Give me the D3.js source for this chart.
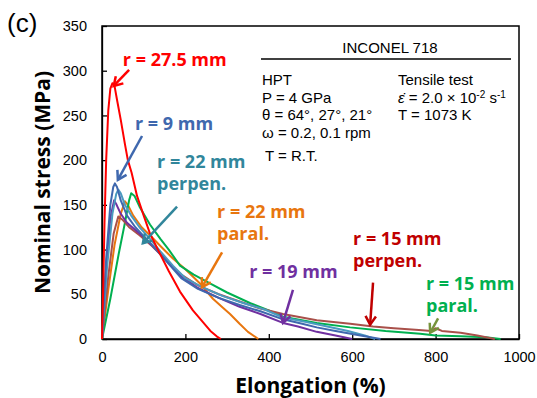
<!DOCTYPE html>
<meta charset="utf-8">
<style>
body { margin: 0; background: #fff; }
.axis text { font: 14.5px "Liberation Sans", Arial, sans-serif; fill: #000; }
.axis path, .axis line { stroke: #000; stroke-width: 1.3px; }
.info { font: 15px "Liberation Sans", Arial, sans-serif; fill: #000; }
.note { font-family: "Open Sans", sans-serif; font-weight: bold; font-size: 18px; }
</style>
<svg width="537" height="398"></svg>
<script src="https://d3js.org/d3.v7.min.js"></script>
<script>
// tick labels
var xTicks = [0, 200, 400, 600, 800, 1000];
var yTicks = [0, 50, 100, 150, 200, 250, 300, 350];

// curves: elongation (%) and nominal stress (MPa)
var r275E = [0, 3, 6, 10, 15, 20, 25, 30, 37, 45, 55, 62, 71, 84, 100, 115, 134, 160, 187, 218, 240, 260, 275, 285];
var r275S = [0, 60, 130, 200, 255, 280, 286, 283, 265, 245, 218, 200, 186, 160, 138, 118, 100, 76, 53, 32, 20, 9, 3, 0];

var r9E = [0, 10, 20, 27, 31, 36, 45, 60, 80, 100, 130, 160, 190, 230, 280, 330, 380, 434, 480, 515, 560, 620, 668];
var r9S = [0, 90, 150, 170, 174, 170, 155, 138, 125, 115, 100, 84, 68, 56, 46, 38, 31, 22, 17, 13, 9, 4, 0];

var r22pE = [0, 12, 25, 34, 39, 45, 55, 70, 90, 115, 140, 170, 200, 240, 290, 340, 390, 434, 490, 540, 590, 630, 655];
var r22pS = [0, 80, 140, 162, 167, 163, 150, 138, 125, 112, 98, 82, 68, 58, 48, 40, 33, 24, 19, 14, 9, 4, 0];

var r22aE = [0, 15, 30, 45, 55, 62, 75, 95, 115, 140, 170, 200, 235, 266, 290, 307, 330, 350, 375];
var r22aS = [0, 55, 105, 140, 154, 150, 138, 125, 116, 104, 90, 78, 62, 45, 35, 28, 17, 8, 0];

var r19E = [0, 10, 20, 29, 35, 45, 60, 80, 100, 130, 160, 190, 230, 280, 330, 380, 434, 470, 515, 560, 600];
var r19S = [0, 80, 135, 155, 150, 140, 130, 122, 114, 100, 85, 70, 57, 46, 36, 28, 18, 14, 8, 4, 0];

var r15pE = [0, 15, 28, 39, 50, 65, 90, 120, 150, 190, 230, 280, 330, 380, 434, 515, 595, 650, 700, 760, 790, 800, 815, 860, 900, 942];
var r15pS = [0, 70, 118, 137, 133, 125, 116, 104, 90, 72, 60, 50, 42, 34, 28, 21, 17, 14, 12, 10, 9, 12, 9, 7, 4, 0];

var r15aE = [0, 20, 40, 55, 65, 70, 78, 90, 115, 140, 160, 187, 220, 260, 300, 356, 400, 434, 515, 595, 680, 763, 800, 860, 920, 956];
var r15aS = [0, 45, 95, 130, 155, 163, 160, 148, 128, 112, 100, 82, 72, 62, 52, 40, 32, 25, 18, 13, 9, 6, 4, 3, 2, 0];

var series = [
  {e: r22aE, s: r22aS, color: "#E8760F"},
  {e: r15aE, s: r15aS, color: "#00B050"},
  {e: r15pE, s: r15pS, color: "#A9504A"},
  {e: r19E, s: r19S, color: "#7030A0"},
  {e: r22pE, s: r22pS, color: "#4A9AC0"},
  {e: r9E, s: r9S, color: "#3F68AE"},
  {e: r275E, s: r275S, color: "#FF0000"}
];

// labels with arrows (data units)
var notes = [
  {lines: ["r = 27.5 mm"], e: 50, s: 305, color: "#FF0000", from: [65, 301], to: [28, 283]},
  {lines: ["r = 9 mm"], e: 79, s: 234, color: "#3F68AE", from: [96, 227], to: [38, 178]},
  {lines: ["r = 22 mm", "perpen."], e: 132, s: 191, color: "#31869B", from: [180, 148], to: [98, 107]},
  {lines: ["r = 22 mm", "paral."], e: 276, s: 135, color: "#E8760F", from: [288, 97], to: [240, 58]},
  {lines: ["r = 19 mm"], e: 353, s: 68, color: "#7030A0", from: [458, 55], to: [434, 18]},
  {lines: ["r = 15 mm", "perpen."], e: 602, s: 105, color: "#C00000", from: [650, 63], to: [643, 16]},
  {lines: ["r = 15 mm", "paral."], e: 777, s: 55, color: "#00B050", arrow: "#77933C", from: [806, 23], to: [787, 7]}
];

var svg = d3.select("svg");

var x = d3.scaleLinear().domain([0, 1000]).range([102, 519]);
var y = d3.scaleLinear().domain([0, 350]).range([339, 26]);

// frame
svg.append("rect")
    .attr("x", x(0)).attr("y", y(350))
    .attr("width", x(1000) - x(0)).attr("height", y(0) - y(350))
    .attr("fill", "none").attr("stroke", "#000").attr("stroke-width", 1.5);

svg.append("g")
    .attr("class", "axis")
    .attr("transform", "translate(0," + y(0) + ")")
    .call(d3.axisBottom(x).tickValues(xTicks).tickFormat(d3.format("d"))
      .tickSizeInner(-5).tickSizeOuter(0).tickPadding(13));

svg.append("g")
    .attr("class", "axis")
    .attr("transform", "translate(" + x(0) + ",0)")
    .call(d3.axisLeft(y).tickValues(yTicks).tickSizeInner(-5).tickSizeOuter(0).tickPadding(15));

// info box
var col1 = 262, col2 = 398;
svg.append("text").attr("class", "info")
    .attr("x", 390).attr("y", 53).attr("text-anchor", "middle")
    .text("INCONEL 718");
svg.append("line")
    .attr("x1", 261).attr("x2", 511).attr("y1", 59).attr("y2", 59)
    .attr("stroke", "#000").attr("stroke-width", 1.5);

[["HPT", 85], ["P = 4 GPa", 103], ["\u03b8 = 64\u00b0, 27\u00b0, 21\u00b0", 120], ["\u03c9 = 0.2, 0.1 rpm", 138]]
  .forEach(function(d) {
    svg.append("text").attr("class", "info").attr("x", col1).attr("y", d[1]).text(d[0]);
  });
svg.append("text").attr("class", "info").attr("x", col1 + 3).attr("y", 161).text("T = R.T.");

svg.append("text").attr("class", "info").attr("x", col2).attr("y", 85).text("Tensile test");
var eps = svg.append("text").attr("class", "info").attr("x", col2).attr("y", 103);
eps.append("tspan").attr("font-style", "italic").text("\u03b5\u0307");
eps.append("tspan").text(" = 2.0 \u00d7 10");
eps.append("tspan").attr("font-size", "10px").attr("dy", -5).text("-2");
eps.append("tspan").attr("dy", 5).text(" s");
eps.append("tspan").attr("font-size", "10px").attr("dy", -5).text("-1");
svg.append("text").attr("class", "info").attr("x", col2).attr("y", 120).text("T = 1073 K");

// curves
var line = d3.line()
    .x(function(d) { return x(d[0]); })
    .y(function(d) { return y(d[1]); });

svg.append("g").selectAll("path")
  .data(series)
  .enter().append("path")
    .attr("d", function(d) { return line(d.e.map(function(v, i) { return [v, d.s[i]]; })); })
    .attr("fill", "none")
    .attr("stroke", function(d) { return d.color; })
    .attr("stroke-width", 2)
    .attr("stroke-linejoin", "round");

// annotations
notes.forEach(function(n) {
  var t = svg.append("text").attr("class", "note")
      .attr("x", x(n.e)).attr("y", y(n.s))
      .attr("fill", n.color);
  n.lines.forEach(function(l, i) {
    t.append("tspan").attr("x", x(n.e)).attr("dy", i ? 22 : 0).text(l);
  });

  var c = n.arrow || n.color;
  var x1 = x(n.from[0]), y1 = y(n.from[1]), x2 = x(n.to[0]), y2 = y(n.to[1]);
  var a = Math.atan2(y2 - y1, x2 - x1), h = 10, w = 0.55;
  svg.append("line")
      .attr("x1", x1).attr("y1", y1).attr("x2", x2).attr("y2", y2)
      .attr("stroke", c).attr("stroke-width", 2.5);
  svg.append("path")
      .attr("d", "M" + (x2 - h * Math.cos(a - w)) + "," + (y2 - h * Math.sin(a - w)) +
                 "L" + x2 + "," + y2 +
                 "L" + (x2 - h * Math.cos(a + w)) + "," + (y2 - h * Math.sin(a + w)))
      .attr("fill", "none").attr("stroke", c).attr("stroke-width", 2.5)
      .attr("stroke-linejoin", "miter");
});

// titles
svg.append("text")
    .attr("x", 7).attr("y", 32)
    .attr("font-family", "Liberation Sans, Arial, sans-serif")
    .attr("font-size", 26)
    .text("(c)");

svg.append("text")
    .attr("transform", "translate(50," + ((y(0) + y(350)) / 2) + ") rotate(-90)")
    .attr("text-anchor", "middle")
    .attr("font-family", "Open Sans, sans-serif")
    .attr("font-weight", "bold")
    .attr("font-size", 21)
    .text("Nominal stress (MPa)");

svg.append("text")
    .attr("x", (x(0) + x(1000)) / 2).attr("y", 393)
    .attr("text-anchor", "middle")
    .attr("font-family", "Open Sans, sans-serif")
    .attr("font-weight", "bold")
    .attr("font-size", 21)
    .text("Elongation (%)");
</script>
